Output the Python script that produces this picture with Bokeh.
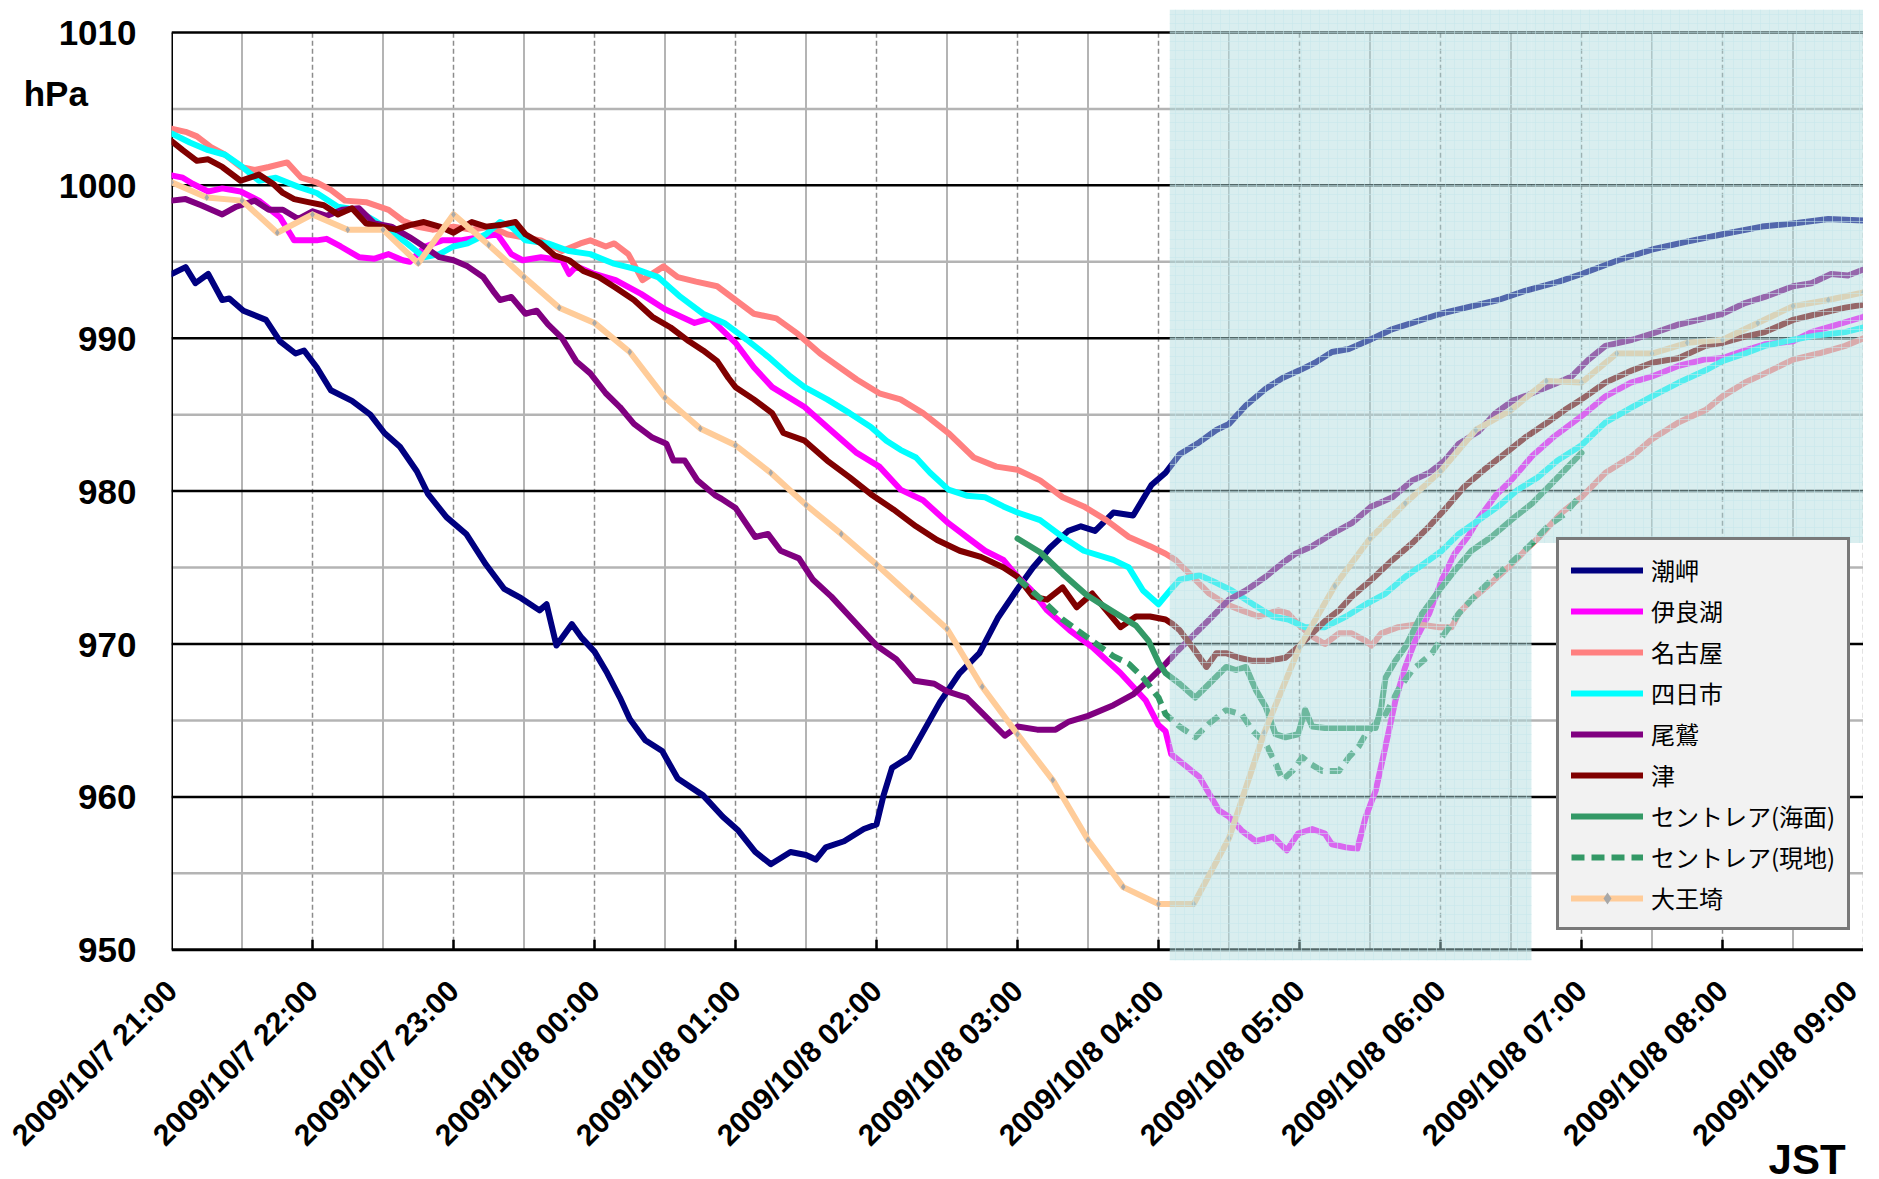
import numpy as np
from bokeh.plotting import figure
from bokeh.models import Range1d, FixedTicker, Legend, LegendItem, LinearAxis
from bokeh.embed import file_html
from bokeh.resources import INLINE

# ---------------- data (hours after 2009/10/7 21:00 JST, pressure hPa) ----------------
tick_labels = ["2009/10/7 21:00", "2009/10/7 22:00", "2009/10/7 23:00", "2009/10/8 00:00",
               "2009/10/8 01:00", "2009/10/8 02:00", "2009/10/8 03:00", "2009/10/8 04:00",
               "2009/10/8 05:00", "2009/10/8 06:00", "2009/10/8 07:00", "2009/10/8 08:00",
               "2009/10/8 09:00"]
y_ticks = [950, 960, 970, 980, 990, 1000, 1010]
unit_label = "hPa"
time_label = "JST"

shiono_t = [0, 0.1, 0.17, 0.26, 0.36, 0.41, 0.51, 0.67, 0.77, 0.88, 0.94, 1.03, 1.13, 1.28, 1.41, 1.51, 1.62,
            1.74, 1.82, 1.95, 2.09, 2.23, 2.36, 2.48, 2.61, 2.66, 2.73, 2.84, 2.91, 3.0, 3.09, 3.18, 3.25,
            3.36, 3.48, 3.59, 3.77, 3.91, 4.02, 4.14, 4.25, 4.39, 4.5, 4.57, 4.64, 4.77, 4.91, 5.0, 5.05,
            5.11, 5.23, 5.34, 5.45, 5.59, 5.73, 5.86, 6.0, 6.11, 6.23, 6.36, 6.45, 6.55, 6.68, 6.82, 6.95,
            7.05, 7.15, 7.22, 7.29, 7.41, 7.5, 7.62, 7.76, 7.88, 8.0, 8.11, 8.23, 8.35, 8.5, 8.66, 8.8,
            9.0, 9.18, 9.41, 9.6, 9.84, 10.0, 10.26, 10.5, 10.74, 11.0, 11.28, 11.5, 11.75, 12.0]
shiono_p = [994.2, 994.65, 993.6, 994.2, 992.5, 992.6, 991.8, 991.2, 989.8, 989.0, 989.2, 988.1, 986.6,
            985.9, 985.0, 983.8, 982.9, 981.3, 979.8, 978.3, 977.2, 975.2, 973.6, 973.0, 972.2, 972.6,
            969.9, 971.3, 970.4, 969.5, 968.1, 966.5, 965.1, 963.7, 963.0, 961.2, 960.1, 958.7, 957.8,
            956.4, 955.6, 956.4, 956.2, 955.9, 956.7, 957.1, 957.9, 958.2, 960.1, 961.9, 962.6, 964.4,
            966.2, 968.1, 969.4, 971.7, 973.6, 975.0, 976.3, 977.4, 977.7, 977.4, 978.6, 978.4, 980.4,
            981.2, 982.4, 982.8, 983.2, 984.0, 984.4, 985.6, 986.7, 987.4, 987.9, 988.4, 989.1, 989.3,
            989.9, 990.6, 991.0, 991.6, 992.0, 992.5, 993.1, 993.7, 994.2, 995.1, 995.8, 996.3, 996.8,
            997.3, 997.5, 997.8, 997.7]

irago_t = [0, 0.08, 0.15, 0.26, 0.36, 0.49, 0.62, 0.77, 0.87, 1.03, 1.1, 1.2, 1.33, 1.44, 1.54, 1.64, 1.69,
           1.8, 1.92, 2.05, 2.18, 2.31, 2.41, 2.49, 2.62, 2.77, 2.82, 2.87, 3.0, 3.15, 3.33, 3.5, 3.71,
           3.82, 4.0, 4.13, 4.26, 4.49, 4.65, 4.86, 5.02, 5.17, 5.33, 5.51, 5.64, 5.77, 5.9, 6.0, 6.1,
           6.21, 6.37, 6.53, 6.73, 6.91, 7.0, 7.05, 7.09, 7.17, 7.29, 7.36, 7.43, 7.5, 7.59, 7.69, 7.81,
           7.91, 7.99, 8.09, 8.18, 8.23, 8.33, 8.41, 8.47, 8.54, 8.61, 8.68, 8.75, 8.82, 8.92, 9.01, 9.1,
           9.2, 9.27, 9.39, 9.51, 9.65, 9.81, 10.0, 10.17, 10.35, 10.5, 10.69, 10.87, 11.0, 11.16, 11.3,
           11.5, 11.63, 11.82, 12.0]
irago_p = [1000.65, 1000.5, 1000.1, 999.6, 999.8, 999.6, 999.0, 997.9, 996.4, 996.4, 996.5, 996.0, 995.3,
           995.2, 995.5, 995.1, 995.0, 996.0, 996.4, 996.4, 996.6, 996.8, 995.5, 995.1, 995.3, 995.1,
           994.2, 994.7, 994.2, 993.8, 992.9, 991.9, 991.0, 991.3, 989.7, 988.1, 986.8, 985.5, 984.2,
           982.5, 981.6, 980.1, 979.4, 977.9, 977.0, 976.1, 975.5, 974.4, 973.5, 972.2, 970.9, 969.8,
           968.1, 966.3, 964.7, 964.3, 962.8, 962.2, 961.3, 960.2, 959.1, 958.7, 957.8, 957.1, 957.4,
           956.5, 957.6, 957.9, 957.6, 956.9, 956.7, 956.6, 958.7, 960.4, 963.3, 966.3, 968.5, 970.2,
           972.0, 974.2, 975.9, 977.1, 978.2, 979.7, 980.8, 982.3, 983.6, 984.9, 986.2, 987.1, 987.5,
           988.2, 988.6, 988.7, 989.2, 989.6, 989.8, 990.4, 990.9, 991.4]

nagoya_t = [0, 0.1, 0.18, 0.28, 0.38, 0.49, 0.59, 0.69, 0.82, 0.92, 1.03, 1.13, 1.23, 1.38, 1.54, 1.64,
            1.74, 1.85, 2.0, 2.13, 2.26, 2.38, 2.49, 2.62, 2.77, 2.9, 2.97, 3.08, 3.14, 3.24, 3.34, 3.49,
            3.59, 3.72, 3.87, 4.0, 4.13, 4.29, 4.44, 4.6, 4.86, 5.02, 5.17, 5.33, 5.51, 5.69, 5.85, 6.0,
            6.16, 6.32, 6.47, 6.63, 6.79, 6.94, 7.05, 7.12, 7.24, 7.36, 7.48, 7.59, 7.71, 7.85, 7.92, 7.99,
            8.09, 8.18, 8.28, 8.37, 8.47, 8.51, 8.58, 8.7, 8.84, 8.99, 9.08, 9.13, 9.22, 9.36, 9.48, 9.6,
            9.7, 9.86, 10.0, 10.17, 10.36, 10.5, 10.69, 10.88, 11.0, 11.16, 11.3, 11.5, 11.68, 11.87, 12.0]
nagoya_p = [1003.7, 1003.5, 1003.2, 1002.5, 1002.0, 1001.2, 1001.0, 1001.2, 1001.5, 1000.5, 1000.2, 999.7,
            999.0, 998.9, 998.4, 997.7, 997.3, 997.1, 997.3, 997.1, 997.3, 996.8, 996.6, 996.4, 995.7,
            996.2, 996.4, 996.0, 996.2, 995.5, 993.8, 994.7, 994.0, 993.7, 993.4, 992.5, 991.6, 991.3,
            990.3, 989.0, 987.3, 986.4, 986.0, 985.1, 983.8, 982.2, 981.6, 981.4, 980.7, 979.6, 979.0,
            978.1, 977.0, 976.4, 975.9, 975.5, 974.4, 973.3, 972.6, 972.2, 971.8, 972.2, 972.0, 971.3,
            970.5, 970.0, 970.7, 970.7, 970.2, 969.9, 970.7, 971.1, 971.3, 971.1, 971.1, 972.0, 972.9,
            974.0, 975.0, 976.1, 977.0, 978.6, 979.6, 981.2, 982.3, 983.4, 984.5, 985.3, 986.2, 987.1,
            987.7, 988.6, 989.0, 989.5, 990.0]

yokkaichi_t = [0, 0.13, 0.26, 0.38, 0.49, 0.62, 0.74, 0.9, 1.03, 1.18, 1.31, 1.44, 1.54, 1.67, 1.79, 1.9,
               2.0, 2.1, 2.23, 2.33, 2.41, 2.51, 2.67, 2.82, 2.97, 3.13, 3.3, 3.45, 3.61, 3.77, 3.92, 4.08,
               4.23, 4.39, 4.49, 4.65, 4.81, 4.96, 5.07, 5.17, 5.28, 5.38, 5.51, 5.64, 5.77, 5.9, 6.0,
               6.16, 6.32, 6.47, 6.68, 6.79, 6.89, 7.0, 7.1, 7.15, 7.29, 7.41, 7.52, 7.67, 7.81, 7.92,
               8.04, 8.18, 8.33, 8.47, 8.61, 8.75, 8.89, 9.01, 9.13, 9.27, 9.41, 9.55, 9.69, 9.83, 10.0,
               10.17, 10.36, 10.5, 10.69, 10.88, 11.0, 11.16, 11.3, 11.5, 11.68, 11.87, 12.0]
yokkaichi_p = [1003.4, 1002.8, 1002.3, 1002.0, 1001.3, 1000.3, 1000.5, 999.9, 999.5, 998.6, 998.4, 997.7,
               997.1, 996.2, 995.3, 995.5, 996.0, 996.2, 996.8, 997.6, 997.3, 996.4, 996.2, 995.7, 995.5,
               994.9, 994.5, 994.0, 992.7, 991.6, 991.0, 989.9, 988.8, 987.5, 986.8, 986.0, 985.1, 984.2,
               983.3, 982.7, 982.2, 981.2, 980.1, 979.7, 979.6, 979.0, 978.6, 978.1, 977.0, 976.1, 975.5,
               975.0, 973.5, 972.6, 973.7, 974.2, 974.5, 974.0, 973.5, 972.6, 971.8, 971.6, 971.1, 971.1,
               971.8, 972.6, 973.3, 974.4, 975.3, 976.1, 977.2, 978.1, 979.0, 980.1, 980.9, 982.0, 983.0,
               984.5, 985.5, 986.2, 987.1, 987.9, 988.5, 989.0, 989.5, 989.9, 990.2, 990.4, 990.7]

owase_t = [0, 0.1, 0.21, 0.36, 0.46, 0.59, 0.69, 0.79, 0.9, 1.0, 1.1, 1.21, 1.33, 1.44, 1.56, 1.69, 1.79,
           1.9, 2.0, 2.1, 2.21, 2.28, 2.33, 2.41, 2.51, 2.59, 2.67, 2.77, 2.87, 2.97, 3.08, 3.18, 3.28,
           3.41, 3.51, 3.56, 3.64, 3.73, 3.86, 3.9, 4.0, 4.14, 4.23, 4.32, 4.45, 4.55, 4.68, 4.82, 5.0,
           5.14, 5.27, 5.41, 5.5, 5.64, 5.77, 5.91, 6.0, 6.14, 6.27, 6.36, 6.5, 6.68, 6.82, 6.95, 7.05,
           7.12, 7.24, 7.36, 7.5, 7.62, 7.76, 7.88, 7.97, 8.09, 8.23, 8.37, 8.51, 8.66, 8.8, 8.92, 9.03,
           9.13, 9.27, 9.39, 9.51, 9.65, 9.81, 9.93, 10.05, 10.17, 10.36, 10.5, 10.69, 10.83, 11.0, 11.16,
           11.3, 11.5, 11.63, 11.77, 11.89, 12.0]
owase_p = [999.0, 999.1, 998.7, 998.1, 998.6, 999.0, 998.4, 998.4, 997.8, 998.3, 998.0, 998.4, 998.5, 997.5,
           997.3, 996.6, 996.0, 995.3, 995.1, 994.7, 994.0, 993.1, 992.5, 992.7, 991.6, 991.8, 990.9,
           990.0, 988.5, 987.7, 986.4, 985.5, 984.4, 983.5, 983.1, 982.0, 982.0, 980.7, 979.7, 979.5,
           978.9, 977.0, 977.2, 976.1, 975.6, 974.2, 973.1, 971.7, 969.9, 969.0, 967.6, 967.4, 966.9,
           966.5, 965.3, 964.0, 964.6, 964.4, 964.4, 964.9, 965.3, 966.0, 966.7, 967.8, 968.7, 969.4,
           970.5, 971.6, 972.9, 973.5, 974.4, 975.3, 975.9, 976.4, 977.2, 977.9, 979.0, 979.6, 980.7,
           981.2, 982.0, 983.1, 983.9, 985.1, 985.9, 986.4, 987.0, 987.5, 988.6, 989.5, 989.9, 990.3,
           990.9, 991.2, 991.6, 992.3, 992.7, 993.4, 993.6, 994.2, 994.1, 994.5]

tsu_t = [0, 0.08, 0.18, 0.26, 0.36, 0.49, 0.62, 0.72, 0.79, 0.87, 0.97, 1.08, 1.18, 1.28, 1.38, 1.49, 1.59,
         1.69, 1.79, 1.9, 2.0, 2.13, 2.23, 2.33, 2.44, 2.51, 2.62, 2.72, 2.82, 2.92, 3.03, 3.15, 3.28, 3.41,
         3.54, 3.67, 3.77, 3.87, 3.95, 4.0, 4.13, 4.26, 4.34, 4.49, 4.65, 4.81, 4.96, 5.12, 5.28, 5.43,
         5.59, 5.74, 5.9, 6.0, 6.11, 6.21, 6.32, 6.42, 6.53, 6.63, 6.73, 6.84, 6.94, 7.05, 7.1, 7.15, 7.24,
         7.34, 7.41, 7.48, 7.57, 7.67, 7.78, 7.9, 7.99, 8.09, 8.18, 8.28, 8.37, 8.51, 8.66, 8.8, 8.92,
         9.03, 9.17, 9.31, 9.45, 9.6, 9.76, 9.88, 10.0, 10.17, 10.36, 10.5, 10.69, 10.88, 11.0, 11.16,
         11.3, 11.5, 11.68, 11.87, 12.0]
tsu_p = [1002.9, 1002.3, 1001.6, 1001.7, 1001.2, 1000.3, 1000.7, 1000.1, 999.5, 999.1, 998.9, 998.7, 998.1,
         998.5, 997.5, 997.3, 997.1, 997.4, 997.6, 997.3, 996.9, 997.6, 997.3, 997.4, 997.6, 996.8, 996.2,
         995.4, 995.1, 994.4, 994.0, 993.3, 992.5, 991.4, 990.7, 989.8, 989.2, 988.5, 987.4, 986.8, 986.0,
         985.1, 983.8, 983.3, 982.0, 980.9, 979.8, 978.8, 977.7, 976.8, 976.1, 975.7, 975.0, 974.4, 973.1,
         972.9, 973.7, 972.4, 973.3, 972.2, 971.1, 971.8, 971.8, 971.6, 971.3, 970.9, 969.8, 968.5, 969.4,
         969.4, 969.1, 968.9, 968.9, 969.1, 969.8, 970.7, 971.5, 972.2, 973.1, 974.2, 975.5, 976.6, 977.7,
         978.8, 980.3, 981.4, 982.4, 983.5, 984.5, 985.3, 986.0, 987.1, 987.9, 988.4, 988.7, 989.5, 989.7,
         990.1, 990.4, 991.2, 991.6, 992.0, 992.2]

centrair_sea_t = [6.0, 6.16, 6.32, 6.49, 6.68, 6.84, 6.93, 7.0, 7.05, 7.15, 7.26, 7.36, 7.48, 7.55, 7.62,
                  7.69, 7.76, 7.83, 7.9, 7.99, 8.04, 8.09, 8.18, 8.37, 8.54, 8.58, 8.61, 8.68, 8.75, 8.87,
                  8.99, 9.1, 9.22, 9.36, 9.5, 9.65, 9.79, 10.0]
centrair_sea_p = [976.9, 976.0, 974.6, 973.2, 972.1, 971.2, 970.2, 968.8, 968.1, 967.4, 966.5, 967.4, 968.5,
                  968.3, 968.5, 967.0, 965.9, 964.1, 963.9, 964.1, 965.7, 964.6, 964.5, 964.5, 964.5, 965.9,
                  967.8, 968.9, 969.8, 972.0, 973.5, 974.8, 976.1, 977.0, 978.1, 979.2, 980.5, 982.5]

centrair_stn_t = [6.0, 6.16, 6.32, 6.5, 6.68, 6.79, 6.89, 7.0, 7.05, 7.15, 7.26, 7.36, 7.48, 7.59, 7.67,
                  7.76, 7.83, 7.88, 7.95, 8.02, 8.07, 8.16, 8.28, 8.35, 8.42, 8.47, 8.54, 8.61, 8.7, 8.8,
                  8.94, 9.03, 9.13, 9.22, 9.36, 9.5, 9.65, 9.76, 9.88, 10.0]
centrair_stn_p = [974.3, 973.0, 971.6, 970.4, 969.2, 968.7, 967.8, 966.5, 965.4, 964.6, 963.9, 964.8, 965.7,
                  965.4, 964.3, 963.5, 962.2, 961.1, 961.7, 962.6, 962.2, 961.7, 961.7, 962.6, 963.3, 964.1,
                  964.8, 965.4, 967.0, 968.3, 969.4, 970.7, 972.0, 972.9, 974.2, 975.3, 976.6, 977.7, 978.5,
                  979.8]

daiosaki_t = [0, 0.25, 0.5, 0.75, 1.0, 1.25, 1.5, 1.75, 2.0, 2.25, 2.5, 2.75, 3.0, 3.25, 3.5, 3.75, 4.0,
              4.25, 4.5, 4.75, 5.0, 5.25, 5.5, 5.75, 6.0, 6.25, 6.5, 6.75, 7.0, 7.25, 7.5, 7.75, 8.0, 8.25,
              8.5, 8.75, 9.0, 9.25, 9.5, 9.75, 10.0, 10.25, 10.5, 10.75, 11.0, 11.25, 11.5, 11.75, 12.0]
daiosaki_p = [1000.2, 999.2, 999.0, 996.9, 998.1, 997.1, 997.1, 994.9, 998.1, 996.1, 994.0, 992.0, 991.0,
              989.1, 986.1, 984.1, 983.0, 981.2, 979.1, 977.2, 975.2, 973.1, 971.0, 967.2, 964.1, 961.1,
              957.2, 954.1, 953.0, 953.0, 957.3, 964.2, 969.8, 973.8, 976.9, 979.2, 981.3, 984.0, 985.3,
              987.2, 987.1, 989.0, 989.0, 989.7, 989.9, 991.0, 992.1, 992.5, 993.0]

series = [
    ("潮岬", shiono_t, shiono_p, "#000080", None),
    ("伊良湖", irago_t, irago_p, "#ff00ff", None),
    ("名古屋", nagoya_t, nagoya_p, "#ff8080", None),
    ("四日市", yokkaichi_t, yokkaichi_p, "#00ffff", None),
    ("尾鷲", owase_t, owase_p, "#800080", None),
    ("津", tsu_t, tsu_p, "#800000", None),
    ("セントレア(海面)", centrair_sea_t, centrair_sea_p, "#339966", None),
    ("セントレア(現地)", centrair_stn_t, centrair_stn_p, "#339966", "13 7"),
    ("大王埼", daiosaki_t, daiosaki_p, "#ffcc99", None),
]

# ---------------- figure ----------------
Y_LO, Y_HI = 949.3, 1011.5
FRAME_H = 951
p = figure(frame_width=1692, frame_height=FRAME_H,
           min_border_left=171, min_border_right=0, min_border_top=9, min_border_bottom=203,
           x_range=Range1d(0, 12), y_range=Range1d(Y_LO, Y_HI),
           output_backend="svg", toolbar_location=None,
           background_fill_color="white", border_fill_color="white")
p.outline_line_color = None
p.xgrid.visible = False
p.ygrid.visible = False

hours = list(range(len(tick_labels)))
x0, x1 = hours[0], hours[-1]
y0, y1 = y_ticks[0], y_ticks[-1]

# grid: half hours (solid gray), hours (dashed gray)
half = [h + 0.5 for h in hours[:-1]]
p.segment(x0=half, x1=half, y0=[y0] * len(half), y1=[y1] * len(half),
          line_color="#b4b4b4", line_width=2)
p.segment(x0=hours[1:], x1=hours[1:], y0=[y0] * (len(hours) - 1), y1=[y1] * (len(hours) - 1),
          line_color="#8c8c8c", line_width=1.5, line_dash="5 3")
five = [v + 5 for v in y_ticks[:-1]]
p.segment(x0=[x0] * len(five), x1=[x1] * len(five), y0=five, y1=five,
          line_color="#b4b4b4", line_width=2.5)
p.segment(x0=[x0] * (len(y_ticks) - 1), x1=[x1] * (len(y_ticks) - 1), y0=y_ticks[1:], y1=y_ticks[1:],
          line_color="black", line_width=2.5)
# frame lines
p.segment(x0=[x0, x0], x1=[x1, x0], y0=[y0, y0], y1=[y0, y1], line_color="black", line_width=3)
# inner hour ticks at the bottom
tick_len = 10 / (FRAME_H / (Y_HI - Y_LO))
p.segment(x0=hours[1:-1], x1=hours[1:-1], y0=[y0] * (len(hours) - 2),
          y1=[y0 + tick_len] * (len(hours) - 2), line_color="black", line_width=2.5)

# series
items = []
for name, t, v, col, dash in series:
    kw = dict(line_color=col, line_width=6, line_join="round", line_cap="round")
    if dash:
        kw["line_dash"] = dash
        kw["line_cap"] = "butt"
    r = p.line(t, v, **kw)
    rs = [r]
    if name == "大王埼":
        m = p.scatter(t, v, marker="diamond", size=7, fill_color="#a8a8a8", line_color=None)
        rs.append(m)
    items.append(LegendItem(label=name, renderers=rs))

# shaded (hatched) overlay
p.quad(left=[7.08, 9.645], right=[9.645, 12.05], bottom=[Y_LO, 976.6], top=[Y_HI, Y_HI],
       fill_color="#aedbde", fill_alpha=0.47, line_color=None,
       hatch_pattern="+", hatch_color="#c6e8eb", hatch_alpha=0.55, hatch_scale=9, hatch_weight=1)

# x axis
xa = p.xaxis[0]
xa.ticker = FixedTicker(ticks=hours)
xa.major_label_overrides = {h: lab for h, lab in zip(hours, tick_labels)}
xa.major_label_orientation = np.pi / 4
xa.major_label_text_font = "Liberation Sans"
xa.major_label_text_font_style = "bold"
xa.major_label_text_font_size = "30px"
xa.major_label_text_color = "black"
xa.major_label_standoff = 25
xa.major_tick_out = 0
xa.major_tick_in = 0
xa.minor_tick_out = 0
xa.minor_tick_in = 0
xa.axis_line_color = None
xa.major_tick_line_color = None
xa.minor_tick_line_color = None

# second (label-only) axis below carrying the time-zone caption
jst_pos = 11.6
jst_axis = LinearAxis(ticker=FixedTicker(ticks=[jst_pos]),
                      major_label_overrides={jst_pos: time_label},
                      major_label_orientation="horizontal",
                      major_label_standoff=-31,
                      major_label_text_font="Liberation Sans",
                      major_label_text_font_style="bold",
                      major_label_text_font_size="42px",
                      major_label_text_color="black",
                      axis_line_color=None, major_tick_line_color=None, minor_tick_line_color=None,
                      major_tick_out=0, major_tick_in=0, minor_tick_out=0, minor_tick_in=0)
p.add_layout(jst_axis, "below")

# y axis (with the unit shown as an extra label near the top)
NB = "\u00a0"
unit_tick = 1006
ya = p.yaxis[0]
ya.ticker = FixedTicker(ticks=y_ticks + [unit_tick])
ya.major_label_overrides = {unit_tick: unit_label + NB * 5}
ya.major_label_text_font = "Liberation Sans"
ya.major_label_text_font_style = "bold"
ya.major_label_text_font_size = "35px"
ya.major_label_text_color = "black"
ya.major_label_standoff = 35
ya.major_tick_out = 0
ya.major_tick_in = 0
ya.minor_tick_out = 0
ya.minor_tick_in = 0
ya.axis_line_color = None
ya.major_tick_line_color = None
ya.minor_tick_line_color = None

legend = Legend(items=items, location=(1385, 30),
                label_text_font="Noto Sans CJK JP", label_text_font_size="24px",
                label_text_color="black",
                glyph_width=72, glyph_height=30, label_height=30, spacing=6,
                padding=12, margin=0, label_standoff=8,
                border_line_color="black", border_line_width=3,
                background_fill_color="#f2f2f2", background_fill_alpha=1.0)
p.add_layout(legend)

open("out.html", "w").write(file_html(p, INLINE))
